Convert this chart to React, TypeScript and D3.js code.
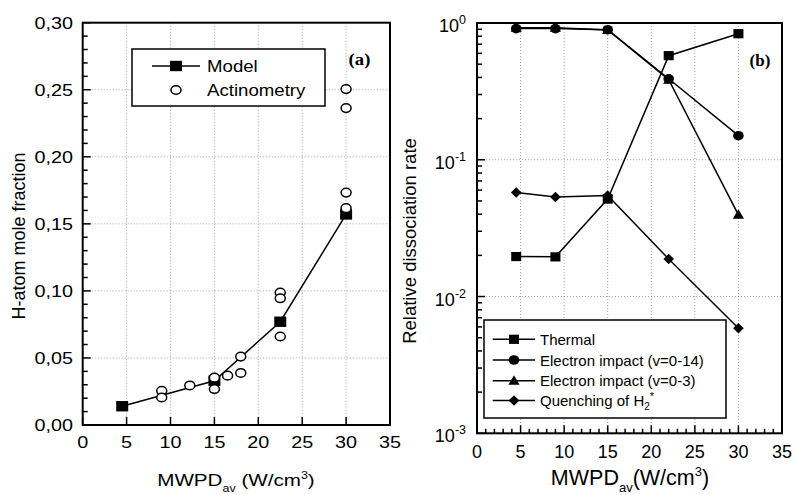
import React from "react";
import * as d3 from "d3";

// ---------- Panel (a) data ----------
const modelX = [4.5, 15, 22.5, 30];
const modelY = [0.014, 0.033, 0.077, 0.157];
const actX = [9, 9, 12.2, 15, 15, 16.5, 18, 18, 22.5, 22.5, 22.5, 30, 30, 30, 30];
const actY = [0.0255, 0.0205, 0.0295, 0.0353, 0.0268, 0.0368, 0.051, 0.0388, 0.0987, 0.0945, 0.066, 0.2505, 0.2363, 0.1733, 0.1617];
const yTicksA = [0, 0.05, 0.1, 0.15, 0.2, 0.25, 0.3];
const yTickLabelsA = ["0,00", "0,05", "0,10", "0,15", "0,20", "0,25", "0,30"];
const xTicks = [0, 5, 10, 15, 20, 25, 30, 35];
const xTickLabels = ["0", "5", "10", "15", "20", "25", "30", "35"];

// ---------- Panel (b) data ----------
const xsB = [4.5, 9, 15, 22, 30];
const thermal = [0.0196, 0.0195, 0.0516, 0.577, 0.835];
const eImpact14 = [0.91, 0.91, 0.893, 0.391, 0.15];
const eImpact3 = [0.925, 0.925, 0.89, 0.385, 0.0396];
const quenching = [0.0577, 0.0534, 0.0548, 0.0188, 0.00587];
const yTicksB = [1e-3, 1e-2, 1e-1, 1];
const yTickExpB = ["-3", "-2", "-1", "0"];
const circleOnTop = [false, false, true, true, true];

const FONT = "'Liberation Sans', Arial, Helvetica, sans-serif";

function Marker({ type, x, y }: { type: string; x: number; y: number }) {
  if (type === "square") return <rect x={x - 5} y={y - 4.6} width={10} height={9.2} fill="black" />;
  if (type === "bigsquare") return <rect x={x - 6} y={y - 5.2} width={12} height={10.4} fill="black" />;
  if (type === "circle") return <ellipse cx={x} cy={y} rx={5.3} ry={4.8} fill="black" />;
  if (type === "open") return <ellipse cx={x} cy={y} rx={5} ry={4.3} fill="white" stroke="black" strokeWidth={1.5} />;
  if (type === "triangle") return <path d={`M${x},${y - 5.5} L${x + 5.6},${y + 4} L${x - 5.6},${y + 4} Z`} fill="black" />;
  if (type === "diamond") return <path d={`M${x},${y - 5.3} L${x + 5.3},${y} L${x},${y + 5.3} L${x - 5.3},${y} Z`} fill="black" />;
  return null;
}

export default function App() {
  // panel (a)
  const xA = d3.scaleLinear().domain([0, 35]).range([82.7, 390]);
  const yA = d3.scaleLinear().domain([0, 0.3]).range([425, 22.7]);
  // panel (b)
  const xB = d3.scaleLinear().domain([0, 35]).range([477, 782]);
  const yB = d3.scaleLog().domain([1e-3, 1]).range([433.3, 23]);

  const lineA = d3.line<number>().x((_, i) => xA(modelX[i])).y((d) => yA(d));
  const lineB = d3.line<number>().x((_, i) => xB(xsB[i])).y((d) => yB(d));

  const minorA = d3.range(0, 31).map((i) => i * 0.01);
  const minorBx = d3.range(0, 36);
  const minorBy: number[] = [];
  [1e-3, 1e-2, 1e-1].forEach((dec) => {
    for (let k = 2; k <= 9; k++) minorBy.push(dec * k);
  });

  const grid = { stroke: "#8a8a8a", strokeWidth: 0.8, strokeDasharray: "1,2" };

  const legendB = [
    { t: "square", label: <>Thermal</> },
    { t: "circle", label: <>Electron impact (v=0-14)</> },
    { t: "triangle", label: <>Electron impact (v=0-3)</> },
    { t: "diamond", label: <>Quenching of H<tspan fontSize={10} dy={4}>2</tspan><tspan fontSize={11} dy={-10}>*</tspan></> },
  ];
  const legendBy = [339.3, 360, 380.7, 400.5];

  return (
    <svg width={797} height={495} style={{ position: "absolute", left: 0, top: 0, background: "white" }} fontFamily={FONT}>
      <rect x={0} y={0} width={797} height={495} fill="white" />

      {/* ================= Panel (a) ================= */}
      {/* grid */}
      {xTicks.slice(1, -1).map((t) => (
        <line key={"gxa" + t} x1={xA(t)} x2={xA(t)} y1={yA(0.3)} y2={yA(0)} {...grid} />
      ))}
      {yTicksA.slice(1, -1).map((t) => (
        <line key={"gya" + t} x1={xA(0)} x2={xA(35)} y1={yA(t)} y2={yA(t)} {...grid} />
      ))}
      {/* ticks */}
      {minorA.map((t, i) => (
        <line key={"mya" + i} x1={xA(0)} x2={xA(0) + (i % 5 === 0 ? 8 : 5)} y1={yA(t)} y2={yA(t)} stroke="black" strokeWidth={1.5} />
      ))}
      {xTicks.map((t) => (
        <line key={"xta" + t} x1={xA(t)} x2={xA(t)} y1={yA(0)} y2={yA(0) - 8} stroke="black" strokeWidth={1.5} />
      ))}
      {/* legend (a) */}
      <rect x={132} y={49} width={193} height={57} fill="white" stroke="black" strokeWidth={1.5} />
      <line x1={152} x2={200} y1={66} y2={66} stroke="black" strokeWidth={1.5} />
      <Marker type="bigsquare" x={176} y={66} />
      <Marker type="open" x={176} y={90} />
      <text transform="translate(207,72) scale(1.13,1)" fontSize={16.5}>Model</text>
      <text transform="translate(207,96) scale(1.13,1)" fontSize={16.5}>Actinometry</text>
      {/* data */}
      <path d={lineA(modelY) || ""} fill="none" stroke="black" strokeWidth={1.5} />
      {modelY.map((v, i) => (
        <Marker key={"ma" + i} type="bigsquare" x={xA(modelX[i])} y={yA(v)} />
      ))}
      {actY.map((v, i) => (
        <Marker key={"aa" + i} type="open" x={xA(actX[i])} y={yA(v)} />
      ))}
      {/* frame */}
      <rect x={xA(0)} y={yA(0.3)} width={xA(35) - xA(0)} height={yA(0) - yA(0.3)} fill="none" stroke="black" strokeWidth={2} />
      {/* tick labels */}
      {yTicksA.map((t, i) => (
        <text key={"yla" + i} transform={`translate(73,${yA(t) + 6}) scale(1.2,1)`} textAnchor="end" fontSize={16.5}>
          {yTickLabelsA[i]}
        </text>
      ))}
      {xTicks.map((t, i) => (
        <text key={"xla" + i} transform={`translate(${xA(t)},448) scale(1.2,1)`} textAnchor="middle" fontSize={16.5}>
          {xTickLabels[i]}
        </text>
      ))}
      <text transform="translate(236,486) scale(1.25,1)" textAnchor="middle" fontSize={16.5}>
        MWPD<tspan fontSize={10} dy={6}>av</tspan>
        <tspan dy={-6}> (W/cm</tspan>
        <tspan fontSize={10} dy={-7}>3</tspan>
        <tspan dy={7}>)</tspan>
      </text>
      <text transform="translate(25,236) rotate(-90)" textAnchor="middle" fontSize={18}>
        H-atom mole fraction
      </text>
      <text transform="translate(359.5,65) scale(1.1,1)" textAnchor="middle" fontSize={17} fontWeight="bold" fontFamily="'Liberation Serif', 'Times New Roman', serif">
        (a)
      </text>

      {/* ================= Panel (b) ================= */}
      {xTicks.slice(1, -1).map((t) => (
        <line key={"gxb" + t} x1={xB(t)} x2={xB(t)} y1={yB(1)} y2={yB(1e-3)} {...grid} />
      ))}
      {yTicksB.slice(1, -1).map((t) => (
        <line key={"gyb" + t} x1={xB(0)} x2={xB(35)} y1={yB(t)} y2={yB(t)} {...grid} />
      ))}
      {minorBx.map((t) => (
        <line key={"mxb" + t} x1={xB(t)} x2={xB(t)} y1={yB(1e-3)} y2={yB(1e-3) - (t % 5 === 0 ? 8 : 4.5)} stroke="black" strokeWidth={1.5} />
      ))}
      {minorBy.map((t, i) => (
        <line key={"myb" + i} x1={xB(0)} x2={xB(0) + 5} y1={yB(t)} y2={yB(t)} stroke="black" strokeWidth={1.5} />
      ))}
      {yTicksB.map((t) => (
        <line key={"ytb" + t} x1={xB(0)} x2={xB(0) + 8} y1={yB(t)} y2={yB(t)} stroke="black" strokeWidth={1.5} />
      ))}
      {/* lines */}
      {[thermal, eImpact14, eImpact3, quenching].map((s, k) => (
        <path key={"lb" + k} d={lineB(s) || ""} fill="none" stroke="black" strokeWidth={1.5} />
      ))}
      {/* markers */}
      {thermal.map((v, i) => <Marker key={"tb" + i} type="square" x={xB(xsB[i])} y={yB(v)} />)}
      {quenching.map((v, i) => <Marker key={"qb" + i} type="diamond" x={xB(xsB[i])} y={yB(v)} />)}
      {eImpact14.map((v, i) => (!circleOnTop[i] ? <Marker key={"c1b" + i} type="circle" x={xB(xsB[i])} y={yB(v)} /> : null))}
      {eImpact3.map((v, i) => <Marker key={"trb" + i} type="triangle" x={xB(xsB[i])} y={yB(v)} />)}
      {eImpact14.map((v, i) => (circleOnTop[i] ? <Marker key={"c2b" + i} type="circle" x={xB(xsB[i])} y={yB(v)} /> : null))}
      {/* legend (b) */}
      <rect x={484} y={320} width={242} height={98} fill="white" stroke="black" strokeWidth={1.5} />
      {legendB.map((e, i) => (
        <g key={"lgb" + i}>
          <line x1={492.7} x2={535} y1={legendBy[i]} y2={legendBy[i]} stroke="black" strokeWidth={1.5} />
          <Marker type={e.t} x={514} y={legendBy[i]} />
          <text x={540} y={legendBy[i] + 5.5} fontSize={15}>
            {e.label}
          </text>
        </g>
      ))}
      {/* frame */}
      <rect x={xB(0)} y={yB(1)} width={xB(35) - xB(0)} height={yB(1e-3) - yB(1)} fill="none" stroke="black" strokeWidth={2} />
      {/* tick labels */}
      {yTicksB.map((t, i) => (
        <text key={"ylb" + i} x={466} y={yB(t) + 9} textAnchor="end" fontSize={18}>
          10<tspan fontSize={12.5} dy={-8}>{yTickExpB[i]}</tspan>
        </text>
      ))}
      {xTicks.map((t, i) => (
        <text key={"xlb" + i} x={xB(t)} y={458} textAnchor="middle" fontSize={18}>
          {xTickLabels[i]}
        </text>
      ))}
      <text x={630} y={485} textAnchor="middle" fontSize={21.5}>
        MWPD<tspan fontSize={13} dy={7}>av</tspan>
        <tspan dy={-7}>(W/cm</tspan>
        <tspan fontSize={13} dy={-9}>3</tspan>
        <tspan dy={9}>)</tspan>
      </text>
      <text transform="translate(416,241) rotate(-90)" textAnchor="middle" fontSize={18.5}>
        Relative dissociation rate
      </text>
      <text x={760} y={66} textAnchor="middle" fontSize={17} fontWeight="bold" fontFamily="'Liberation Serif', 'Times New Roman', serif">
        (b)
      </text>
    </svg>
  );
}
